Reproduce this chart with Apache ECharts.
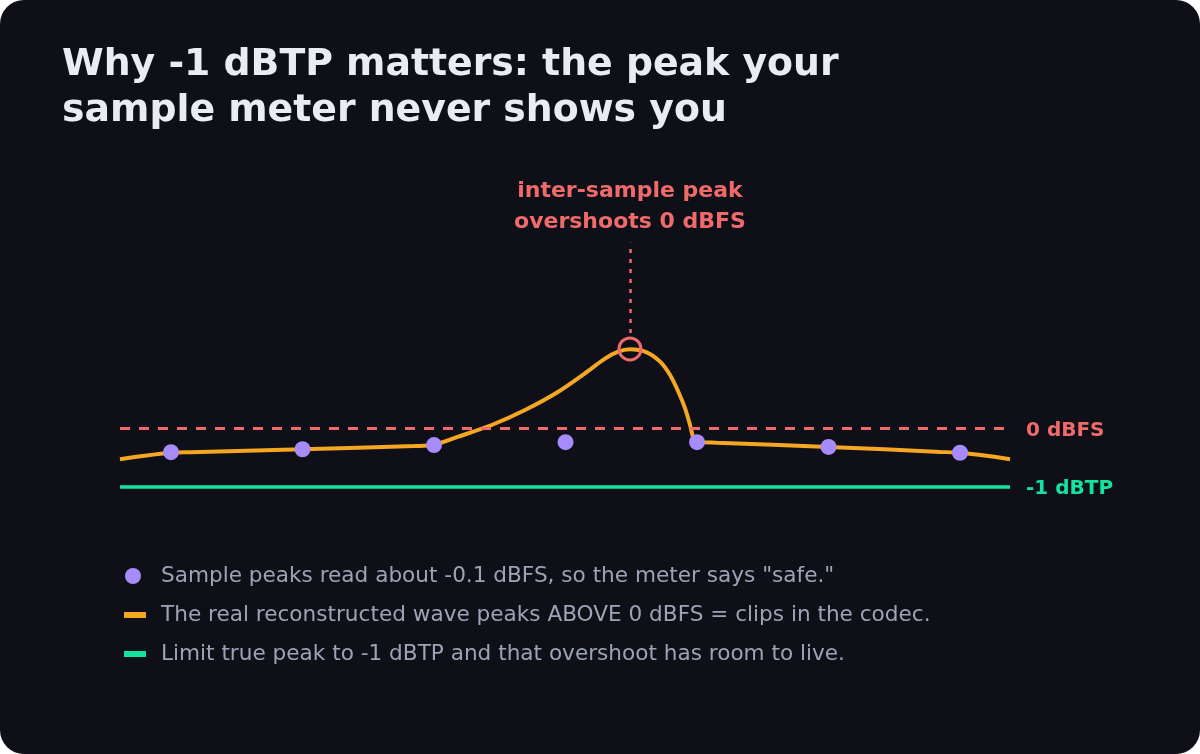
<!DOCTYPE html>
<html>
<head>
<meta charset="utf-8">
<script src="https://cdn.jsdelivr.net/npm/echarts@6/dist/echarts.min.js"></script>
<style>
  html, body { margin: 0; padding: 0; background: #ffffff; }
  #card { width: 1200px; height: 754px; background: #0f1017; border-radius: 24px; overflow: hidden; }
  #chart { width: 1200px; height: 754px; }
</style>
</head>
<body>
<div id="card"><div id="chart"></div></div>
<script>
// x in sample periods, y in dBFS
var xRange = [-0.388, 6.38];
// sample values the meter sees
var samplePeaks = [[0, -0.41], [1, -0.36], [2, -0.29], [3, -0.24], [4, -0.24], [5, -0.32], [6, -0.42]];
// reconstructed (true-peak) waveform
var truePeakWave = [
    [-0.388, -0.53], [-0.2, -0.47], [0, -0.42], [0.15, -0.41], [1, -0.36], [1.85, -0.305], [2, -0.285],
    [2.185, -0.147], [2.439, 0.051], [2.692, 0.305], [2.945, 0.615], [3.148, 0.927], [3.30, 1.175],
    [3.40, 1.293], [3.49, 1.334], [3.617, 1.283], [3.719, 1.124], [3.795, 0.898], [3.858, 0.615],
    [3.909, 0.334], [3.947, 0.051], [3.977, -0.203], [4, -0.235],
    [4.15, -0.25], [5, -0.32], [5.85, -0.405], [6, -0.42], [6.2, -0.47], [6.38, -0.53]
];
var peakPoint = [3.49, 1.34];
var calloutLine = [3.14, 1.61]; // top, bottom of the dotted leader
var fullScale = 0;
var truePeakLimit = -1;

var names = [
    'Sample peaks read about -0.1 dBFS, so the meter says "safe."',
    'The real reconstructed wave peaks ABOVE 0 dBFS = clips in the codec.',
    'Limit true peak to -1 dBTP and that overshoot has room to live.'
];
var red = '#ef6b6b', orange = '#f5a623', purple = '#a78bfa', green = '#14e3a0';
function legendText(padLeft) {
    return { color: '#9da3b6', fontSize: 21.6, fontFamily: 'DejaVu Sans', lineHeight: 30, padding: [0, 0, 0, padLeft] };
}

var chart = echarts.init(document.getElementById('chart'));
var option = {
    animation: false,
    backgroundColor: 'transparent',
    title: {
        text: 'Why -1 dBTP matters: the peak your\nsample meter never shows you',
        left: 62,
        top: 42,
        padding: 0,
        textStyle: { color: '#e9ecf3', fontSize: 37.8, fontWeight: 'bold', fontFamily: 'DejaVu Sans', lineHeight: 46 }
    },
    grid: { left: 120, right: 190, top: 162.5, bottom: 237.5 },
    xAxis: { type: 'value', min: xRange[0], max: xRange[1], show: false },
    yAxis: { type: 'value', min: -1.5, max: 4.5, show: false },
    legend: [
        { data: [names[0]], left: 125, top: 561, padding: 0, icon: 'circle', itemWidth: 16, itemHeight: 16, selectedMode: false, textStyle: legendText(15) },
        { data: [names[1]], left: 124, top: 600, padding: 0, icon: 'rect', itemWidth: 22, itemHeight: 6, selectedMode: false, textStyle: legendText(10) },
        { data: [names[2]], left: 124, top: 639, padding: 0, icon: 'rect', itemWidth: 22, itemHeight: 6, selectedMode: false, textStyle: legendText(10) }
    ],
    series: [
        {
            name: names[2],
            type: 'line',
            color: green,
            data: [[xRange[0], truePeakLimit], [xRange[1], truePeakLimit]],
            showSymbol: false,
            lineStyle: { color: green, width: 3.5 },
            endLabel: {
                show: true, formatter: '-1 dBTP', distance: 16, offset: [0, 2],
                color: green, fontSize: 20, fontWeight: 'bold', fontFamily: 'DejaVu Sans'
            },
            markLine: {
                silent: true,
                symbol: 'none',
                data: [{ yAxis: fullScale }],
                lineStyle: { color: red, width: 3, type: [10, 9] },
                label: {
                    position: 'end', formatter: '0 dBFS', distance: 16, offset: [0, 3],
                    color: red, fontSize: 20, fontWeight: 'bold', fontFamily: 'DejaVu Sans'
                }
            },
            z: 1
        },
        {
            name: names[1],
            type: 'line',
            color: orange,
            data: truePeakWave,
            smooth: 0.3,
            showSymbol: false,
            lineStyle: { color: orange, width: 4 },
            markLine: {
                silent: true,
                symbol: 'none',
                data: [[{ coord: [peakPoint[0], calloutLine[1]] }, { coord: [peakPoint[0], calloutLine[0]] }]],
                lineStyle: { color: red, width: 2.5, type: [4, 6] },
                label: {
                    position: 'end', distance: 5,
                    formatter: 'inter-sample peak\novershoots 0 dBFS',
                    color: red, fontSize: 22, fontWeight: 'bold', fontFamily: 'DejaVu Sans', lineHeight: 31, align: 'center'
                }
            },
            markPoint: {
                silent: true,
                symbol: 'circle',
                symbolSize: 22,
                data: [{ coord: peakPoint }],
                itemStyle: { color: 'rgba(0,0,0,0)', borderColor: red, borderWidth: 3 },
                label: { show: false }
            },
            z: 2
        },
        {
            name: names[0],
            type: 'scatter',
            color: purple,
            data: samplePeaks,
            symbolSize: 16,
            itemStyle: { color: purple, opacity: 1 },
            z: 3
        }
    ]
};
chart.setOption(option);
</script>
</body>
</html>
